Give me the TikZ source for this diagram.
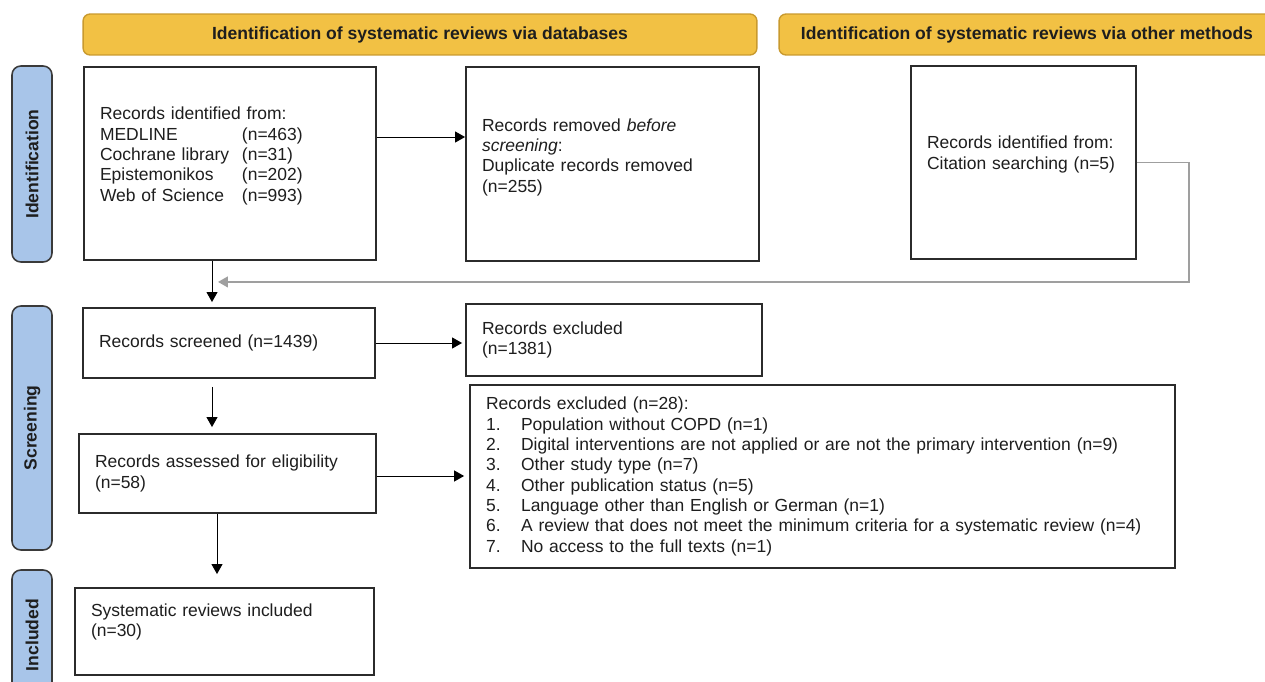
\documentclass[tikz,border=0pt]{standalone}
\usepackage{fontspec}
\setmainfont{Liberation Sans}
\usetikzlibrary{arrows.meta,positioning,calc}
\definecolor{hdrfill}{HTML}{F2C144}
\definecolor{hdrdraw}{HTML}{C99A2E}
\definecolor{sidefill}{HTML}{A8C5E9}
\definecolor{sidedraw}{HTML}{3A3A3A}
\definecolor{boxdraw}{HTML}{2B2B2B}
\definecolor{txtcol}{HTML}{1E1E1E}

\begin{document}
\begin{tikzpicture}[
    x=0.02cm, y=-0.02cm,
    every node/.style={font=\fontsize{9.95}{11.6}\selectfont, text=txtcol},
    hdr/.style={rectangle, draw=hdrdraw, line width=0.8pt, fill=hdrfill, rounded corners=4pt, minimum height=0.82cm, font=\fontsize{10}{11.6}\selectfont\bfseries},
    side/.style={rectangle, draw=sidedraw, line width=0.9pt, fill=sidefill, rounded corners=5pt, rotate=90, minimum height=0.8cm, font=\fontsize{10}{11.6}\selectfont\bfseries},
    box/.style={rectangle, draw=boxdraw, line width=1.1pt, fill=white, align=left, inner xsep=0.32cm},
    arr/.style={-{Triangle[length=2mm, width=2.2mm]}, line width=0.55pt, draw=black},
    merge/.style={-{Triangle[length=2mm, width=2.2mm]}, line width=0.7pt, draw=gray!75}
]
    \useasboundingbox (0,0) rectangle (1265,682);
    \clip (0,0) rectangle (1265,682);

    % Headers
    \node[hdr, minimum width=13.48cm] (hdrdb) at (420, 34.5) {Identification of systematic reviews via databases};
    \node[hdr, minimum width=9.92cm] (hdrother) at (1027, 34.5) {Identification of systematic reviews via other methods};

    % Phase labels
    \node[side, minimum width=3.92cm] (sideid) at (32, 164) {Identification};
    \node[side, minimum width=4.88cm] (sidescr) at (32, 428) {Screening};
    \node[side, minimum width=2.6cm] (sideinc) at (32, 635) {Included};

    % Identification
    \node[box, minimum width=5.84cm, minimum height=3.86cm, text width=5.2cm, text depth=2cm] (recid) at (230, 163.5) {Records identified from:\\
        \makebox[2.84cm][l]{MEDLINE}(n=463)\\
        \makebox[2.84cm][l]{Cochrane library}(n=31)\\
        \makebox[2.84cm][l]{Epistemonikos}(n=202)\\
        \makebox[2.84cm][l]{Web of Science}(n=993)};
    \node[box, minimum width=5.86cm, minimum height=3.88cm, text width=5.22cm, text depth=1.57cm] (removed) at (612.5, 164) {Records removed \textit{before}\\ \textit{screening}:\\ Duplicate records removed\\ (n=255)};
    \node[box, minimum width=4.5cm, minimum height=3.86cm, text width=3.86cm, text depth=0.8cm] (citation) at (1023.5, 162.5) {Records identified from:\\ Citation searching (n=5)};

    % Screening
    \node[box, minimum width=5.84cm, minimum height=1.4cm, text width=5.2cm] (screened) at (229, 343) {Records screened (n=1439)};
    \node[box, minimum width=5.92cm, minimum height=1.44cm, text width=5.28cm] (excl1) at (614, 340) {Records excluded\\ (n=1381)};
    \node[box, minimum width=5.94cm, minimum height=1.58cm, text width=5.3cm] (assessed) at (227.5, 473.5) {Records assessed for eligibility\\ (n=58)};
    \node[box, minimum width=14.1cm, minimum height=3.66cm, text width=13.46cm] (excl2) at (822.5, 476.5) {Records excluded (n=28):\\
        \makebox[0.7cm][l]{1.}Population without COPD (n=1)\\
        \makebox[0.7cm][l]{2.}Digital interventions are not applied or are not the primary intervention (n=9)\\
        \makebox[0.7cm][l]{3.}Other study type (n=7)\\
        \makebox[0.7cm][l]{4.}Other publication status (n=5)\\
        \makebox[0.7cm][l]{5.}Language other than English or German (n=1)\\
        \makebox[0.7cm][l]{6.}A review that does not meet the minimum criteria for a systematic review (n=4)\\
        \makebox[0.7cm][l]{7.}No access to the full texts (n=1)};

    % Included
    \node[box, minimum width=5.98cm, minimum height=1.74cm, text width=5.34cm, text depth=0.87cm] (incl) at (224.5, 631.5) {Systematic reviews included\\ (n=30)};

    % Arrows
    \coordinate (join) at ($(recid.south)+(-18,21)$);
    \draw[arr] ([yshift=0.53cm]recid.east) -- ([yshift=0.53cm]recid.east -| removed.west);
    \draw[merge] (citation.east) -- ++(52,0) |- ([xshift=0.12cm]join);
    \draw[arr, shorten >=0.1cm] ([xshift=-0.36cm]recid.south) -- ([xshift=-0.36cm]recid.south |- screened.north);
    \draw[arr, shorten >=0.06cm] (screened.east) -- (screened.east -| excl1.west);
    \draw[arr, shorten <=0.16cm, shorten >=0.12cm] ([xshift=-0.34cm]screened.south) -- ([xshift=-0.34cm]screened.south |- assessed.north);
    \draw[arr, shorten >=0.1cm] ([yshift=-0.05cm]assessed.east) -- ([yshift=-0.05cm]assessed.east -| excl2.west);
    \draw[arr, shorten >=0.26cm] ([xshift=-0.21cm]assessed.south) -- ([xshift=-0.21cm]assessed.south |- incl.north);
\end{tikzpicture}
\end{document}
